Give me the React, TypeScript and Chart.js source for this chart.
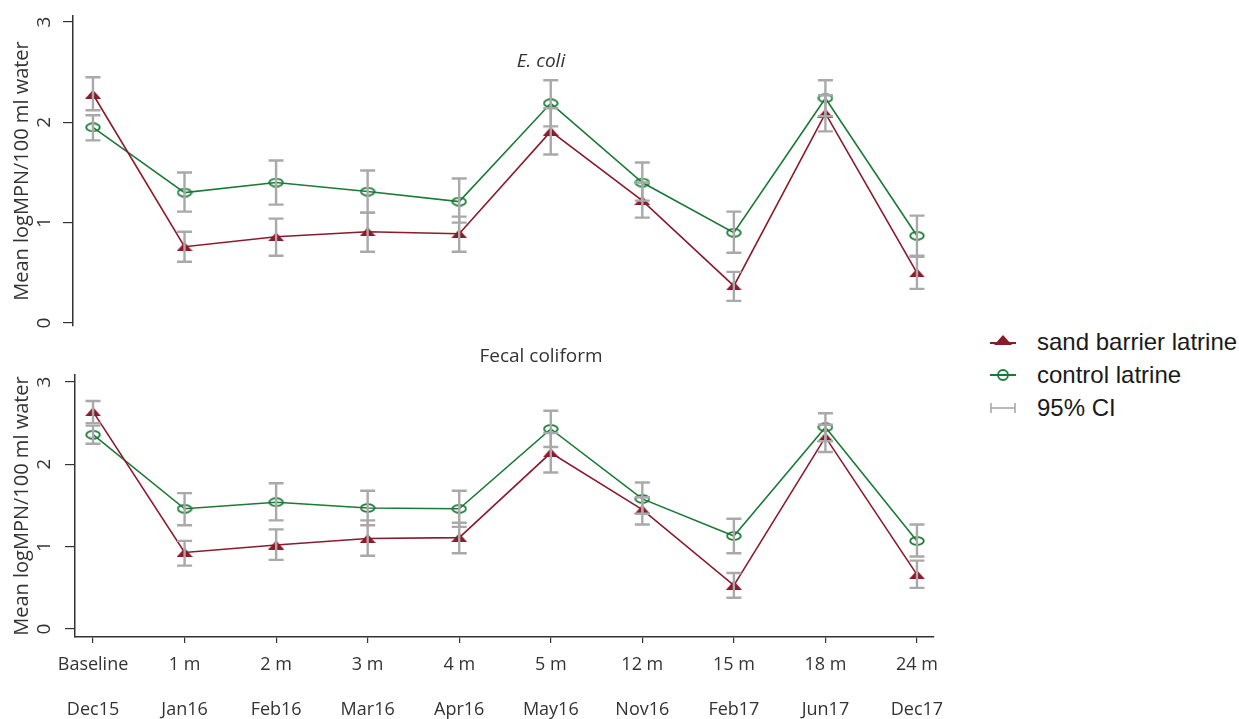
import React, { useEffect, useRef } from 'react';
import { Chart, registerables } from 'chart.js';

Chart.register(...registerables);

// ---------- data ----------
const monthLabels = ['Baseline', '1 m', '2 m', '3 m', '4 m', '5 m', '12 m', '15 m', '18 m', '24 m'];
const dateLabels = ['Dec15', 'Jan16', 'Feb16', 'Mar16', 'Apr16', 'May16', 'Nov16', 'Feb17', 'Jun17', 'Dec17'];
const yTickValues = [0, 1, 2, 3];

// E. coli panel
const ecoliSand = [2.28, 0.76, 0.86, 0.91, 0.89, 1.91, 1.22, 0.37, 2.09, 0.5];
const ecoliSandLo = [2.12, 0.61, 0.67, 0.71, 0.71, 1.68, 1.05, 0.22, 1.91, 0.34];
const ecoliSandHi = [2.45, 0.91, 1.04, 1.1, 1.06, 2.14, 1.4, 0.51, 2.27, 0.66];
const ecoliControl = [1.95, 1.3, 1.4, 1.31, 1.21, 2.19, 1.4, 0.9, 2.24, 0.87];
const ecoliControlLo = [1.82, 1.11, 1.18, 1.1, 1.0, 1.96, 1.22, 0.7, 2.06, 0.67];
const ecoliControlHi = [2.07, 1.5, 1.62, 1.52, 1.44, 2.42, 1.6, 1.11, 2.42, 1.07];

// Fecal coliform panel
const fecalSand = [2.64, 0.93, 1.02, 1.1, 1.11, 2.14, 1.45, 0.53, 2.33, 0.66];
const fecalSandLo = [2.5, 0.77, 0.84, 0.89, 0.92, 1.9, 1.27, 0.38, 2.15, 0.5];
const fecalSandHi = [2.77, 1.07, 1.21, 1.32, 1.29, 2.38, 1.6, 0.68, 2.48, 0.83];
const fecalControl = [2.36, 1.46, 1.54, 1.47, 1.46, 2.43, 1.58, 1.13, 2.45, 1.07];
const fecalControlLo = [2.25, 1.26, 1.32, 1.26, 1.24, 2.21, 1.4, 0.92, 2.28, 0.88];
const fecalControlHi = [2.47, 1.65, 1.77, 1.68, 1.68, 2.65, 1.78, 1.34, 2.62, 1.27];

// ---------- styles ----------
const SAND_COLOR = '#8b1a2b';
const CONTROL_COLOR = '#1b7a35';
const CI_COLOR = '#a9a9a9';
const TEXT_COLOR = '#333333';
const AXIS_COLOR = '#333333';
const FONT = '"Open Sans", sans-serif';

function makeTriangle(color: string) {
  const c = document.createElement('canvas');
  c.width = 16;
  c.height = 9;
  const ctx = c.getContext('2d')!;
  ctx.fillStyle = color;
  ctx.beginPath();
  ctx.moveTo(8, 0);
  ctx.lineTo(16, 9);
  ctx.lineTo(0, 9);
  ctx.closePath();
  ctx.fill();
  return c;
}

function makeEllipse(color: string) {
  const c = document.createElement('canvas');
  c.width = 16;
  c.height = 10;
  const ctx = c.getContext('2d')!;
  ctx.strokeStyle = color;
  ctx.lineWidth = 1.8;
  ctx.beginPath();
  ctx.ellipse(8, 5, 6.8, 3.8, 0, 0, Math.PI * 2);
  ctx.stroke();
  return c;
}

const ciPlugin = {
  id: 'ciBars',
  afterDatasetsDraw(chart: any) {
    const { ctx } = chart;
    const xs = chart.scales.x;
    const ys = chart.scales.y;
    ctx.save();
    ctx.strokeStyle = CI_COLOR;
    ctx.lineWidth = 2.4;
    chart.data.datasets.forEach((ds: any) => {
      ds.data.forEach((p: any, i: number) => {
        const x = xs.getPixelForValue(p.x);
        const y1 = ys.getPixelForValue(ds.ciLo[i]);
        const y2 = ys.getPixelForValue(ds.ciHi[i]);
        ctx.beginPath();
        ctx.moveTo(x, y1);
        ctx.lineTo(x, y2);
        ctx.moveTo(x - 7.5, y1);
        ctx.lineTo(x + 7.5, y1);
        ctx.moveTo(x - 7.5, y2);
        ctx.lineTo(x + 7.5, y2);
        ctx.stroke();
      });
    });
    ctx.restore();
  },
};

const yRotLabels = {
  id: 'yRotLabels',
  afterDraw(chart: any, _args: any, opts: any) {
    const { ctx } = chart;
    const ys = chart.scales.y;
    ctx.save();
    ctx.font = `19px ${FONT}`;
    ctx.fillStyle = TEXT_COLOR;
    ctx.textAlign = 'center';
    ctx.textBaseline = 'middle';
    yTickValues.forEach((v) => {
      const y = ys.getPixelForValue(v);
      ctx.save();
      ctx.translate(opts.x, y);
      ctx.rotate(-Math.PI / 2);
      ctx.fillText(String(v), 0, 0);
      ctx.restore();
    });
    ctx.restore();
  },
};

const panelTitle = {
  id: 'panelTitle',
  afterDraw(chart: any, _args: any, opts: any) {
    const { ctx } = chart;
    ctx.save();
    ctx.font = `${opts.italic ? 'italic ' : ''}19px ${FONT}`;
    ctx.fillStyle = TEXT_COLOR;
    ctx.textAlign = 'center';
    ctx.textBaseline = 'middle';
    ctx.fillText(opts.text, opts.x, opts.y);
    ctx.restore();
  },
};

function buildConfig(
  sand: number[], sandLo: number[], sandHi: number[],
  control: number[], controlLo: number[], controlHi: number[],
  o: { showX: boolean; title: string; italic: boolean; titleY: number; yMin: number; yMax: number; xMin: number; axisW: number; padTop: number; padBottom: number }
) {
  const tri = makeTriangle(SAND_COLOR);
  const ell = makeEllipse(CONTROL_COLOR);
  return {
    type: 'line',
    data: {
      datasets: [
        {
          label: 'sand barrier latrine',
          data: sand.map((v, i) => ({ x: i, y: v })),
          ciLo: sandLo,
          ciHi: sandHi,
          borderColor: SAND_COLOR,
          borderWidth: 1.6,
          pointStyle: tri,
          pointRadius: 6,
          tension: 0,
        },
        {
          label: 'control latrine',
          data: control.map((v, i) => ({ x: i, y: v })),
          ciLo: controlLo,
          ciHi: controlHi,
          borderColor: CONTROL_COLOR,
          borderWidth: 1.6,
          pointStyle: ell,
          pointRadius: 6,
          tension: 0,
        },
      ],
    },
    plugins: [ciPlugin, yRotLabels, panelTitle],
    options: {
      responsive: false,
      animation: false,
      events: [],
      clip: false,
      layout: { padding: { left: 0, right: 26, top: o.padTop, bottom: o.padBottom } },
      plugins: {
        legend: { display: false },
        tooltip: { enabled: false },
        yRotLabels: { x: 45 },
        panelTitle: { text: o.title, italic: o.italic, x: 541, y: o.titleY },
      },
      scales: {
        x: {
          type: 'linear',
          display: o.showX,
          min: o.xMin,
          max: 9.186,
          afterBuildTicks: (s: any) => {
            s.ticks = monthLabels.map((_, i) => ({ value: i }));
          },
          afterFit: (s: any) => {
            if (o.showX) s.height = 82;
          },
          ticks: {
            autoSkip: false,
            maxRotation: 0,
            minRotation: 0,
            padding: 11,
            color: TEXT_COLOR,
            font: { family: FONT, size: 18, lineHeight: 1.25 },
            callback: (_v: any, i: number) => [monthLabels[i], '', dateLabels[i]],
          },
          grid: { drawOnChartArea: false, drawTicks: true, tickLength: 6, color: AXIS_COLOR, lineWidth: 1.2 },
          border: { display: true, color: AXIS_COLOR, width: 1.5 },
        },
        y: {
          type: 'linear',
          min: o.yMin,
          max: o.yMax,
          afterBuildTicks: (s: any) => {
            s.ticks = yTickValues.map((v) => ({ value: v }));
          },
          afterFit: (s: any) => {
            s.width = o.axisW;
          },
          ticks: { display: false },
          grid: { drawOnChartArea: false, drawTicks: true, tickLength: 10, color: AXIS_COLOR, lineWidth: 1.2 },
          border: { display: true, color: AXIS_COLOR, width: 1.5 },
          title: {
            display: true,
            text: 'Mean logMPN/100 ml water',
            color: TEXT_COLOR,
            font: { family: FONT, size: 20, lineHeight: 1.2 },
            padding: { top: 10, bottom: 0 },
          },
        },
      },
    },
  } as any;
}

function LegendIcon({ kind }: { kind: 'sand' | 'control' | 'ci' }) {
  return (
    <svg width={30} height={20} style={{ display: 'block' }}>
      {kind === 'sand' && (
        <>
          <line x1={2} y1={11} x2={28} y2={11} stroke={SAND_COLOR} strokeWidth={2} />
          <polygon points="15,3 24,13 6,13" fill={SAND_COLOR} />
        </>
      )}
      {kind === 'control' && (
        <>
          <line x1={2} y1={10} x2={28} y2={10} stroke={CONTROL_COLOR} strokeWidth={2} />
          <circle cx={15} cy={10} r={5} fill="none" stroke={CONTROL_COLOR} strokeWidth={1.8} />
        </>
      )}
      {kind === 'ci' && (
        <>
          <line x1={3} y1={10} x2={27} y2={10} stroke={CI_COLOR} strokeWidth={1.6} />
          <line x1={3} y1={5} x2={3} y2={15} stroke={CI_COLOR} strokeWidth={1.6} />
          <line x1={27} y1={5} x2={27} y2={15} stroke={CI_COLOR} strokeWidth={1.6} />
        </>
      )}
    </svg>
  );
}

export default function App() {
  const topRef = useRef<HTMLCanvasElement>(null);
  const botRef = useRef<HTMLCanvasElement>(null);

  useEffect(() => {
    const top = new Chart(
      topRef.current!,
      buildConfig(ecoliSand, ecoliSandLo, ecoliSandHi, ecoliControl, ecoliControlLo, ecoliControlHi, {
        showX: false, title: 'E. coli', italic: true, titleY: 62, yMin: -0.03, yMax: 3.06, xMin: -0.218, axisW: 73, padTop: 16, padBottom: 14,
      })
    );
    const bot = new Chart(
      botRef.current!,
      buildConfig(fecalSand, fecalSandLo, fecalSandHi, fecalControl, fecalControlLo, fecalControlHi, {
        showX: true, title: 'Fecal coliform', italic: false, titleY: 17, yMin: -0.097, yMax: 3.085, xMin: -0.197, axisW: 75, padTop: 35, padBottom: 0,
      })
    );
    return () => {
      top.destroy();
      bot.destroy();
    };
  }, []);

  const rowStyle: React.CSSProperties = {
    position: 'absolute',
    left: 988,
    display: 'flex',
    alignItems: 'center',
    height: 30,
    font: '24px "Liberation Sans", Arial, sans-serif',
    color: '#1a1a1a',
    whiteSpace: 'nowrap',
  };

  return (
    <div style={{ position: 'fixed', left: 0, top: 0, width: 1239, height: 719, background: '#fff', overflow: 'hidden' }}>
      <canvas ref={topRef} width={960} height={340} style={{ position: 'absolute', left: 0, top: 0 }} />
      <canvas ref={botRef} width={960} height={379} style={{ position: 'absolute', left: 0, top: 340 }} />
      <div style={{ ...rowStyle, top: 327 }}>
        <LegendIcon kind="sand" />
        <span style={{ marginLeft: 19 }}>sand barrier latrine</span>
      </div>
      <div style={{ ...rowStyle, top: 360 }}>
        <LegendIcon kind="control" />
        <span style={{ marginLeft: 19 }}>control latrine</span>
      </div>
      <div style={{ ...rowStyle, top: 393 }}>
        <LegendIcon kind="ci" />
        <span style={{ marginLeft: 19 }}>95% CI</span>
      </div>
    </div>
  );
}
